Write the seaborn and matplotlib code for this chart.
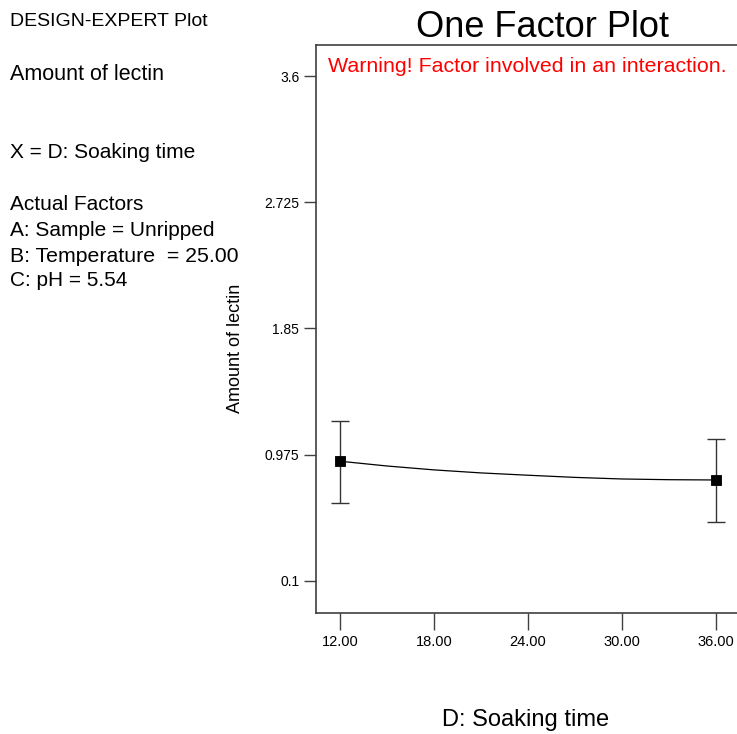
"""
One Factor Plot - DESIGN-EXPERT 风格重绘
"""
import numpy as np
import pandas as pd
import matplotlib
matplotlib.use('Agg')
import matplotlib.pyplot as plt
import seaborn as sns

# 数据
soak_time = [12, 36]
lectin_pred = [0.930, 0.800]
ci_low = [0.639, 0.509]
ci_high = [1.211, 1.082]

curve_x = [12, 15, 18, 21, 24, 27, 30, 33, 36]
curve_y = [0.930, 0.897, 0.870, 0.849, 0.833, 0.818, 0.807, 0.802, 0.800]

x_ticks = [12, 18, 24, 30, 36]
x_ticklabels = ['12.00', '18.00', '24.00', '30.00', '36.00']
y_ticks = [0.1, 0.975, 1.85, 2.725, 3.6]
y_ticklabels = ['0.1', '0.975', '1.85', '2.725', '3.6']

info_lines = [
    ('DESIGN-EXPERT Plot', 21, 14),
    ('Amount of lectin', 74, 15.5),
    ('X = D: Soaking time', 152, 15),
    ('Actual Factors', 204, 15),
    ('A: Sample = Unripped', 230, 15),
    ('B: Temperature  = 25.00', 256, 15.3),
    ('C: pH = 5.54', 281, 15),
]

sns.set_theme(style='white')
plt.rcParams['font.family'] = ['Liberation Sans', 'DejaVu Sans']
plt.rcParams['text.color'] = 'black'
plt.rcParams['xtick.color'] = 'black'
plt.rcParams['ytick.color'] = 'black'

W, H = 737, 734
fig = plt.figure(figsize=(W / 100, H / 100), dpi=100)
ax = fig.add_axes([316 / W, (H - 613) / H, (768 - 316) / W, (613 - 45) / H])

curve_df = pd.DataFrame({'time': curve_x, 'lectin': curve_y})
sns.lineplot(data=curve_df, x='time', y='lectin', ax=ax, color='black', lw=0.9)

pts = pd.DataFrame({'time': soak_time, 'lectin': lectin_pred})
err = [np.array(lectin_pred) - np.array(ci_low), np.array(ci_high) - np.array(lectin_pred)]
ax.errorbar(soak_time, lectin_pred, yerr=err, fmt='none', ecolor='#333333',
            elinewidth=1.0, capsize=6.5, capthick=1.0)
sns.scatterplot(data=pts, x='time', y='lectin', ax=ax, marker='s', s=60,
                color='black', edgecolor='black', zorder=5)

ax.set_xlim(10.47, 39.34)
ax.set_ylim(-0.122, 3.815)
ax.set_xticks(x_ticks)
ax.set_xticklabels(x_ticklabels, fontsize=10.5)
ax.set_yticks(y_ticks)
ax.set_yticklabels(y_ticklabels, fontsize=10)
ax.tick_params(axis='x', direction='out', length=12, width=1, color='#404040', pad=4,
               bottom=True)
ax.tick_params(axis='y', direction='out', length=9, width=1, color='#404040', pad=3,
               left=True)
for side in ['left', 'bottom', 'top', 'right']:
    ax.spines[side].set_color('#404040')
    ax.spines[side].set_linewidth(1.2)

ax.set_xlabel('')
ax.set_ylabel('')
ax.set_title('One Factor Plot', fontsize=26, pad=6)

fig.text(235 / W, 1 - 348 / H, 'Amount of lectin', fontsize=13, rotation=90,
         ha='center', va='center')

fig.text(328 / W, 1 - 66 / H, 'Warning! Factor involved in an interaction.',
         color='red', fontsize=15.4, ha='left', va='center')

fig.text(526 / W, 1 - 720 / H, 'D: Soaking time', fontsize=17, ha='center', va='center')

for txt, ypix, fs in info_lines:
    fig.text(10 / W, 1 - ypix / H, txt, fontsize=fs, ha='left', va='center')

fig.savefig('out.png', dpi=100)
